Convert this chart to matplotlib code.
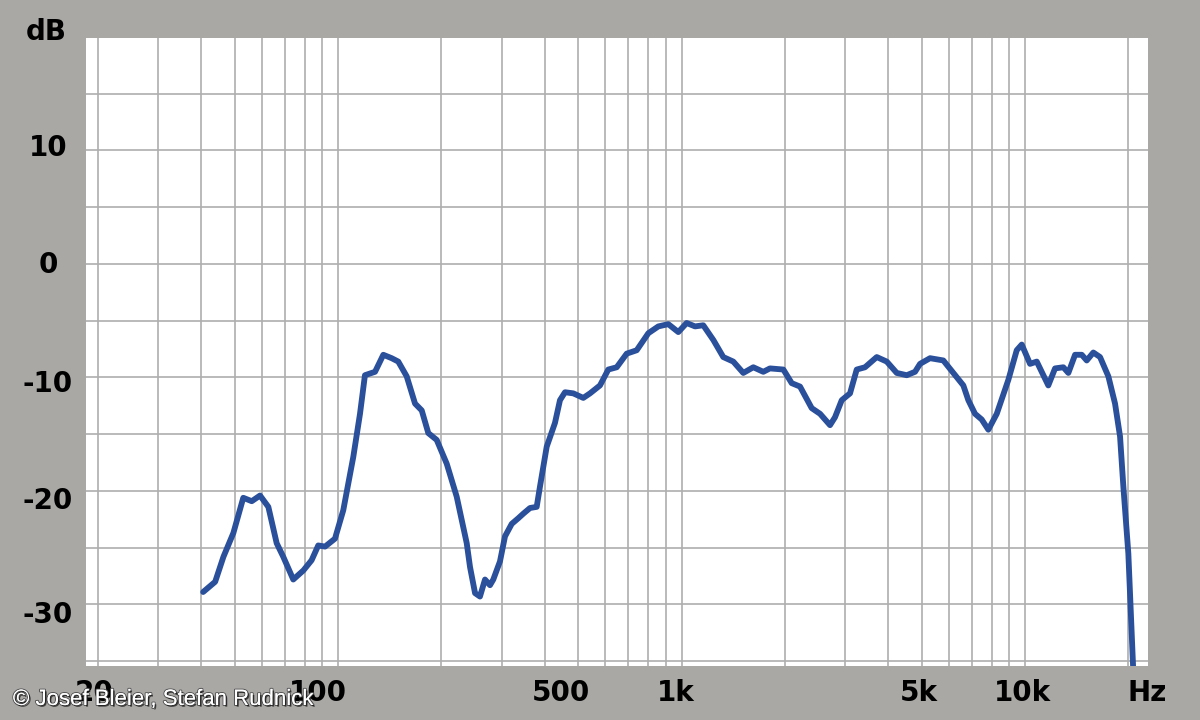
import numpy as np
import matplotlib
matplotlib.use('Agg')
import matplotlib.pyplot as plt
import matplotlib.patheffects as pe

# frequency response (Hz, dB)
freq_hz = [40.5, 43.9, 46.4, 49.6, 53.0, 56.1, 59.3, 62.7, 66.3, 69.3,
           74.1, 79.3, 83.8, 87.6, 91.7, 98.0, 103.6, 110.8, 115.9, 119.8,
           128.2, 135.5, 143.3, 149.8, 158.5, 167.6, 175.3, 183.2, 193.8, 207.3,
           221.6, 237.0, 242.3, 250.6, 259.0, 267.9, 277.0, 283.2, 296.2, 306.3,
           320.4, 334.9, 346.3, 362.2, 378.8, 387.3, 405.1, 428.2, 442.8, 458.0,
           484.2, 517.7, 541.5, 579.0, 612.2, 647.7, 692.6, 740.6, 800.6, 856.1,
           915.4, 978.8, 1035, 1095, 1157, 1238, 1323, 1415, 1513, 1618,
           1730, 1809, 1979, 2093, 2213, 2393, 2531, 2706, 2798, 2927,
           3094, 3236, 3421, 3701, 3958, 4232, 4525, 4784, 4947, 5290,
           5783, 6184, 6613, 6838, 7152, 7478, 7819, 8273, 8943, 9458,
           9782, 10341, 10817, 11306, 11688, 12227, 12927, 13369, 13983, 14625,
           15121, 15804, 16532, 17479, 18281, 18905, 19328, 19985, 20700]
level_db = [-28.9, -28.0, -25.8, -23.7, -20.6, -20.9, -20.4, -21.4, -24.6, -25.8,
            -27.8, -27.0, -26.1, -24.8, -24.9, -24.2, -21.7, -17.0, -13.2, -9.8,
            -9.5, -8.0, -8.3, -8.6, -9.9, -12.3, -12.9, -14.9, -15.5, -17.6,
            -20.5, -24.6, -26.7, -29.0, -29.3, -27.8, -28.3, -27.8, -26.2, -24.0,
            -22.9, -22.4, -22.0, -21.5, -21.4, -19.6, -16.1, -14.0, -12.0, -11.3,
            -11.4, -11.8, -11.4, -10.7, -9.3, -9.1, -7.9, -7.6, -6.1, -5.5,
            -5.3, -6.0, -5.2, -5.5, -5.4, -6.7, -8.2, -8.6, -9.6, -9.1,
            -9.5, -9.2, -9.3, -10.5, -10.8, -12.7, -13.2, -14.2, -13.5, -12.0,
            -11.4, -9.3, -9.1, -8.2, -8.6, -9.6, -9.8, -9.5, -8.8, -8.3,
            -8.5, -9.6, -10.7, -12.0, -13.2, -13.7, -14.6, -13.2, -10.2, -7.6,
            -7.1, -8.8, -8.6, -9.8, -10.7, -9.2, -9.1, -9.6, -8.0, -8.0,
            -8.5, -7.8, -8.2, -9.9, -12.3, -15.2, -19.6, -25.5, -36.5]

y_ticks = [10, 0, -10, -20, -30]
y_labels = ['10', '0', '-10', '-20', '-30']
x_ticks = [20, 100, 500, 1000, 5000, 10000]
x_labels = ['20', '100', '500', '1k', '5k', '10k']

bg = '#aaa8a5'
line_col = '#2a4f9b'
grid_col = '#aeaeae'

fig = plt.figure(figsize=(12, 7.2), dpi=100, facecolor=bg)
ax = fig.add_axes([86 / 1200, 1 - 666 / 720, 1062 / 1200, 628 / 720])
ax.set_facecolor('white')
ax.set_xscale('log')
ax.set_xlim(18.47, 22800)
ax.set_ylim(-35.42, 19.91)

# grid: 1-2-3..9 per decade, 5 dB horizontally
grid_x = [m * 10 ** d for d in range(1, 5) for m in range(1, 10)]
grid_x = [g for g in grid_x if 18.47 < g < 22800]
for g in grid_x:
    ax.axvline(g, color=grid_col, lw=1.2, zorder=1)
for h in range(-35, 20, 5):
    ax.axhline(h, color=grid_col, lw=1.2, zorder=1)

ax.plot(freq_hz, level_db, color=line_col, lw=4.2,
        solid_joinstyle='round', solid_capstyle='round', zorder=3)

ax.set_xticks([])
ax.set_yticks([])
ax.minorticks_off()
for s in ax.spines.values():
    s.set_visible(False)

lab = dict(fontfamily='DejaVu Sans', fontweight='bold', fontsize=20, color='black')

# y labels (sit slightly off the grid lines, as in the original)
y_offsets = [2, -1, -7, -10, -11]
for v, t, off in zip(y_ticks, y_labels, y_offsets):
    ax.annotate(t, xy=(0, v), xycoords=ax.get_yaxis_transform(),
                xytext=(-38, off), textcoords='offset pixels',
                ha='center', va='center', annotation_clip=False, **lab)
fig.text(46 / 1200, 1 - 32 / 720, 'dB', ha='center', va='center', **lab)

# x labels
x_offsets = [-4, -20, -17, -6, -3, -3]
for v, t, off in zip(x_ticks, x_labels, x_offsets):
    ax.annotate(t, xy=(v, 0), xycoords=ax.get_xaxis_transform(),
                xytext=(off, -27), textcoords='offset pixels',
                ha='center', va='center', annotation_clip=False, **lab)
ax.annotate('Hz', xy=(1, 0), xycoords='axes fraction',
            xytext=(-1, -27), textcoords='offset pixels',
            ha='center', va='center', annotation_clip=False, **lab)

fig.text(13 / 1200, 1 - 705 / 720, '\u00a9 Josef Bleier, Stefan Rudnick',
         fontfamily='Liberation Sans', fontsize=16, color='white',
         ha='left', va='baseline',
         path_effects=[pe.withStroke(linewidth=1.5, foreground='#555555'),
                       pe.SimplePatchShadow(offset=(1.2, -1.2), shadow_rgbFace='black', alpha=0.6),
                       pe.Normal()])

fig.savefig('out.png', dpi=100, facecolor=bg)
